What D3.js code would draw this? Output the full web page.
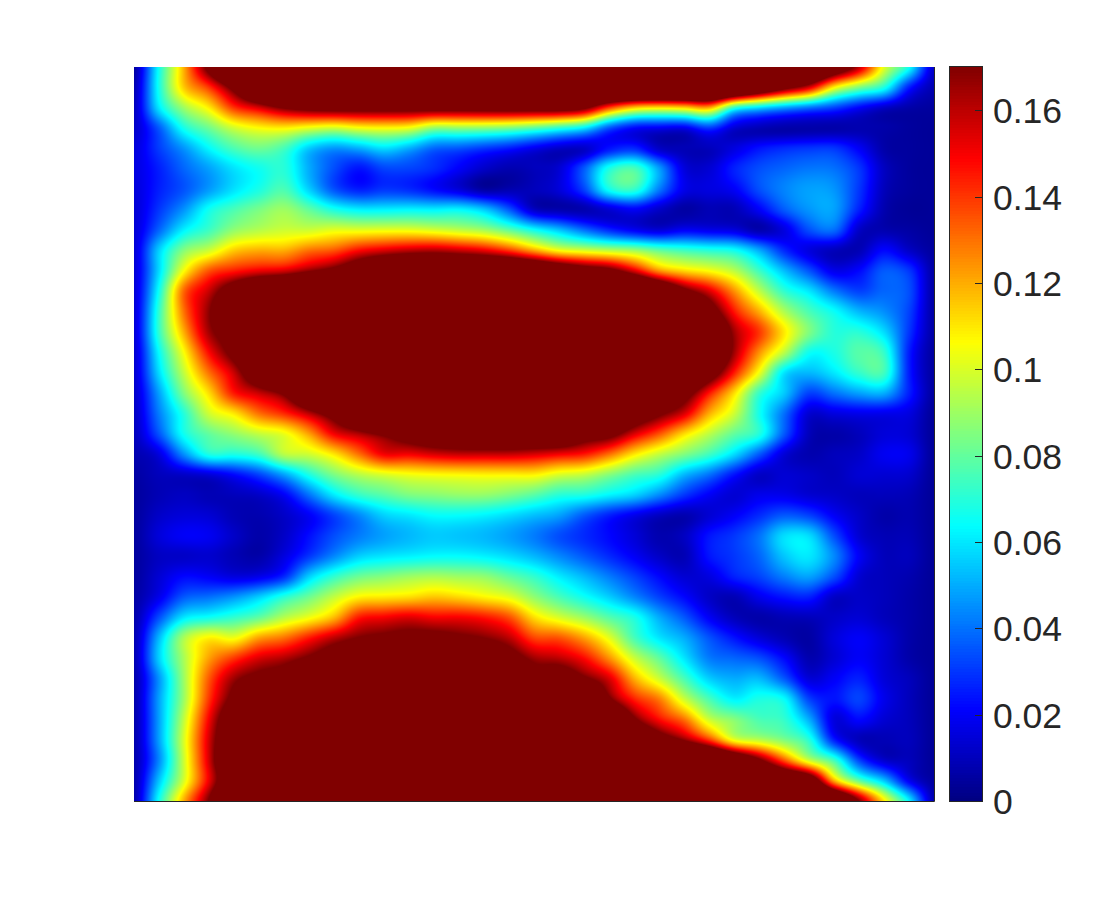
<!DOCTYPE html>
<html>
<head>
<meta charset="utf-8">
<script src="https://cdn.jsdelivr.net/npm/d3@7/dist/d3.min.js"></script>
<style>
html,body{margin:0;padding:0;background:#fff;width:1120px;height:900px;overflow:hidden}
svg{display:block}
text{font-family:"Liberation Sans",Arial,sans-serif}
</style>
</head>
<body>
<div id="chart"></div>
<script>
// Field values in hundredths. Values above the colour limit are clipped by the colour scale.
const row00=[.5,6.6,12,18,24,26,26,26,26,26,26,26,26,26,26,26,26,26,26,26,26,26,26,26,26,26,26,24,20,16,10.2,6.6,1.2];
const row01=[.8,6.7,11.5,14,18,23,26,26,26,26,26,26,26,26,26,26,26,26,26,26,26,26,26,26,24,21,18,15.5,10.8,8.5,6.8,2.6,.8];
const row02=[1,6,9,10.9,14,15.5,17.2,18,18.3,18.3,18.3,18.3,18.3,18.3,18.4,18.5,18.5,18.5,17.5,13.8,11.5,11,11.3,12,7.2,5.8,4.8,4,3.2,2.1,1.2,.7,.5];
const row03=[1.2,3.6,6.7,8.2,9.8,10.6,10.8,10.2,9.8,10.4,10.6,10.3,8.8,8.8,8.7,8.4,7.8,7,6,3.5,2.2,1.9,1.8,3,1.4,.9,.7,.7,.7,.8,.7,.5,.4];
const row04=[1.5,3.1,4.6,6.3,7.6,8.2,7.5,5.5,4.6,5,5.8,5,3.8,3.5,3,2.5,1.8,1.2,1.2,2.4,2.8,1.2,.9,1,1.6,2.4,2.8,3,3,2,.7,.5,.4];
const row05=[1.6,2.6,3.8,4.8,5.9,6.6,7,5,3.4,2.4,3.2,3.2,2.8,2,1.2,.8,1,1.4,3.6,6.8,7.6,4.8,1.6,1.4,2.6,3.4,3.8,4.1,4,3,1.1,.5,.4];
const row06=[1.5,2.6,3.5,4.7,5.9,6.8,7.6,5.6,3.5,2.6,3,2.8,2.2,1.5,.6,.8,1,1.5,3.2,6.6,7.2,4.2,1.8,1.6,2,3.4,4.3,4.8,4.6,3,1,.5,.4];
const row07=[1.4,3,4.6,6.6,7.6,8.4,9,8,6.8,6.2,6.2,6.3,6.2,6.3,5.5,3.6,1.2,.8,.8,1.4,2,1.2,.6,.9,.9,2,3.6,4.6,4.8,2.6,.8,.4,.4];
const row08=[1.4,3.8,6.2,7.4,8.8,9.4,9.8,9.8,10.2,10.2,10.3,10.3,10,9.6,9.1,8,6.6,5.4,4,2.8,2,1.5,2,1.8,1.6,.8,1.6,3.4,3.9,1.2,.8,.6,.4];
const row09=[1.4,5.6,8.6,9.8,11.5,12,12,13,13.5,14.8,15.5,16,16.2,15.8,15.2,14,12.2,10.6,10,9.5,9,8,7.4,7,6.6,5,2.8,1.6,1,.9,2.2,1.2,.5];
const row10=[1.4,5.8,10.6,13.5,14.5,15.2,15.6,16.8,18,20,22,23,23,23,23,23,22,20.5,19,18,15.5,12.5,11.3,10.6,9.5,7.4,5.3,3.5,1.8,2.2,3.6,3,.6];
const row11=[1.4,6.6,13.2,15.8,19,22,24,26,26,26,26,26,26,26,26,26,26,26,26,26,25,22,18,15.5,12.5,9.6,7.2,6,4.2,3.2,3.8,3.4,.6];
const row12=[1.4,7.2,13,16.8,21,24,26,26,26,26,26,26,26,26,26,26,26,26,26,26,26,26,24,19,14.6,12,9.3,7.6,6.5,5.2,4.5,3.2,.6];
const row13=[1.4,7.2,12,16.4,19,24,26,26,26,26,26,26,26,26,26,26,26,26,26,26,26,26,25,22,16.5,14,11,8.5,7,7,5.8,3,.6];
const row14=[1.3,6.4,10.6,14.8,18,22,26,26,26,26,26,26,26,26,26,26,26,26,26,26,26,26,25,22,16.5,12.5,9.5,6.6,6.8,7.8,7.2,2.6,.5];
const row15=[1.3,5.8,9.6,13,15.8,20,24,26,26,26,26,26,26,26,26,26,26,26,26,26,26,26,23,19,14.5,10.4,6,5.2,6,7.2,7.4,2.6,.5];
const row16=[1.2,4.8,8.5,11.2,14.5,15.8,17.5,22,26,26,26,26,26,26,26,26,26,26,26,26,26,21,18.5,14.6,11.2,7.3,5.5,3.2,4,4.8,5,2.6,.5];
const row17=[1.1,4.2,7,9.8,11,13,14.2,16,18.5,22,26,26,26,26,26,26,26,26,26,23,20,17.5,15.5,12,9.8,6.7,4,1.4,1.6,1.8,1.8,1.6,.4];
const row18=[1,3.5,6.6,8,8.8,9.6,10.3,12.2,15,16.2,17.5,19,20,20.5,21,21,21,21,19,18,15.5,13.5,11.2,9.5,8,6.9,3.6,1,.7,1,1.5,1.4,.4];
const row19=[.8,1.6,4.5,6.8,6.8,7.4,9.4,9.8,11,13,15,15,15.5,15.8,15.8,15.8,15.5,15,14.5,13,11,9.6,8.5,7.4,5.8,3.6,1.5,.8,1,1.2,1.9,1.8,.4];
const row20=[.6,1,1.2,1.5,2.2,3.2,4.8,6.8,8.4,9.4,10,10.4,10.6,10.7,10.8,10.8,10.8,10,9.6,8.6,7.6,7,5.2,4,2.4,1.2,1.4,1.2,1,1.4,1.4,1.3,.4];
const row21=[.5,.9,1.1,.9,1,1.2,2,4,6,7.2,7.8,8.4,8.6,8.8,8.8,8.4,7.8,7,6.8,6.2,5.6,4.4,3,2,1.4,1.8,1.8,1.4,1.2,1,1,.9,.4];
const row22=[.5,1.2,1.5,1.4,.9,.8,1.2,2,3.2,4.4,5.6,6,6.4,6.4,6.2,5.8,5.3,4.8,3.6,2.6,1.8,1.1,.8,1.4,2,2.8,3.6,3.2,2,1.2,.7,.8,.4];
const row23=[.5,1.5,2,1.9,1.2,.7,1.2,2.3,3.4,4.2,4.8,5.2,5.5,5.4,5.2,4.8,4.2,3.4,2.8,2.2,1.5,.8,1.1,2.4,3,4,5.8,5.8,3.4,1.4,.9,.9,.4];
const row24=[.5,1.1,1.2,1.3,.9,.7,1.6,3,4.4,5.6,6,6.2,6.4,6.4,6.2,5.8,5.2,4.4,3.6,2.8,2,1.2,.9,2.4,3,3.8,5.4,6,4.4,2,1,1,.4];
const row25=[.5,1.4,2.2,2,1.6,1.8,2.8,5.6,7.2,8.2,8.6,9,9.2,9,8.8,8,7.2,6.1,5.2,4.2,3.2,2.2,1.4,1.6,2.6,3.2,4.2,4.8,3.4,1.4,1,.8,.4];
const row26=[.6,1.8,3.6,4,4.6,5.6,7,8.2,9.6,10.8,11,11.2,11.6,11.3,10.8,10.2,8.8,7.6,6.6,5.6,4.4,3.2,2.2,1.2,.9,1.8,2.4,2.6,1.2,1.2,1,.7,.4];
const row27=[.7,3.4,6,6.6,7.2,8,9.4,10.4,11.8,14.5,15,15.4,15,15,14.6,13.6,11.2,10,9,7.8,6.8,5,3.6,2,1,.7,.9,1,1.2,1.4,1,.7,.4];
const row28=[.8,5.2,9.2,10.8,10.4,12.2,13,14.5,16,17.1,17.6,18,18,17.5,17,16,13.8,13.5,12.2,10.2,7.6,6,5,3.5,2.4,1.5,.9,.6,1.5,2,1.4,.7,.4];
const row29=[.8,5.6,9.2,12.2,14,15.5,16.2,17.4,19,20,20.5,21,21,20.5,20,18.5,16.5,16,14.8,12.5,9.8,8,6,4.2,3.8,3.4,2.2,.8,1.4,2,1.4,.7,.4];
const row30=[.7,4.6,9,13.4,16.5,18,19,21,23,24,24,24,24,24,24,22,19,19.5,17.5,15.5,12,9.8,7.6,5.6,5,5.2,3.6,1.5,2,2.6,1.5,1,.4];
const row31=[.7,4.8,9,14,18,22,25,25,25,25,25,25,25,25,25,25,25,25,23,17.5,14.4,12.8,9.8,7.6,6.2,6.8,6.4,3.2,2.4,3.2,1.8,1,.4];
const row32=[.7,4.8,9.6,15,20,24,26,26,26,26,26,26,26,26,26,26,26,26,26,23,17.5,14.8,13,9.8,8.6,7.6,7.2,5,1.6,2.2,1.4,1,.4];
const row33=[.7,4.8,10,15.6,21,26,26,26,26,26,26,26,26,26,26,26,26,26,26,26,22,19,16.8,14,10.4,9.5,8.5,7,2.6,1,.9,1,.4];
const row34=[.7,4.4,9.8,15.6,22,26,26,26,26,26,26,26,26,26,26,26,26,26,26,26,26,26,26,24,21,17.5,13.5,9.8,7.4,3.2,1.3,1,.4];
const row35=[.7,5.4,10,15.2,21,26,26,26,26,26,26,26,26,26,26,26,26,26,26,26,26,26,26,26,26,24,22,20,12,8,5.4,1.9,.5];
const row36=[.7,6.6,12,17.2,24,26,26,26,26,26,26,26,26,26,26,26,26,26,26,26,26,26,26,26,26,26,26,26,23,17,11,6.2,.8];

const tickValues=[0,0.02,0.04,0.06,0.08,0.1,0.12,0.14,0.16];
const tickLabels=["0","0.02","0.04","0.06","0.08","0.1","0.12","0.14","0.16"];
const colorLimit=0.17;
const jetPositions=[0,.125,.375,.625,.875,1];
const jetColors=["#000080","#0000ff","#00ffff","#ffff00","#ff0000","#800000"];

const grid=[row00,row01,row02,row03,row04,row05,row06,row07,row08,row09,row10,row11,row12,row13,row14,row15,row16,row17,row18,row19,row20,row21,row22,row23,row24,row25,row26,row27,row28,row29,row30,row31,row32,row33,row34,row35,row36];
grid.forEach((r,i)=>{if(r.length!==33)throw new Error("row "+i+" has "+r.length);});

const W=1120,H=900,L=134,R=934,T=67,B=801,CL=950,CR=982;
const color=d3.scaleLinear().domain(jetPositions.map(p=>p*colorLimit)).range(jetColors).clamp(true);
const colS=d3.scaleLinear().domain([0,grid[0].length-1]).range([L,R]);
const rowS=d3.scaleLinear().domain([0,grid.length-1]).range([T,B]);
const cbY=d3.scaleLinear().domain([0,colorLimit]).range([B,T]);

// shading between grid samples, like an interpolated surface plot
function cub(a,b,c,d,t){return b+.5*t*(c-a+t*(2*a-5*b+4*c-d+t*(3*(b-c)+d-a)));}
function clampI(i,n){return Math.max(0,Math.min(n-1,i));}
function sample(px,py){
  const cx=colS.invert(px),ry=rowS.invert(py);
  const i=clampI(Math.floor(cx),grid[0].length-1),j=clampI(Math.floor(ry),grid.length-1);
  const tx=cx-i,ty=ry-j,v=[];
  for(let k=-1;k<=2;k++){
    const r=grid[clampI(j+k,grid.length)];
    v.push(cub(r[clampI(i-1,r.length)],r[clampI(i,r.length)],r[clampI(i+1,r.length)],r[clampI(i+2,r.length)],tx));
  }
  return cub(v[0],v[1],v[2],v[3],ty)/100;
}

const canvas=document.createElement("canvas");
canvas.width=R-L;canvas.height=B-T;
const ctx=canvas.getContext("2d");
const img=ctx.createImageData(canvas.width,canvas.height);
for(let y=0;y<canvas.height;y++){
  for(let x=0;x<canvas.width;x++){
    const c=d3.rgb(color(sample(L+x+.5,T+y+.5)));
    const o=(y*canvas.width+x)*4;
    img.data[o]=c.r;img.data[o+1]=c.g;img.data[o+2]=c.b;img.data[o+3]=255;
  }
}
ctx.putImageData(img,0,0);

const svg=d3.select("#chart").append("svg").attr("width",W).attr("height",H).attr("viewBox",[0,0,W,H]);
svg.append("image").attr("x",L).attr("y",T).attr("width",R-L).attr("height",B-T)
  .attr("href",canvas.toDataURL("image/png"));
// bottom and right edges of the map's box
svg.append("path").attr("d",`M${L},${B+.5}H${R+.5}V${T}`).attr("fill","none").attr("stroke","#262626").attr("stroke-width",1);

// colour bar
const levels=d3.range(256).map(i=>(i+.5)/256*colorLimit);
const step=(B-T)/256;
svg.append("g").attr("shape-rendering","crispEdges").selectAll("rect").data(levels).join("rect")
  .attr("x",CL).attr("width",CR-CL)
  .attr("y",d=>cbY(d)-step/2-.3).attr("height",step+.6)
  .attr("fill",d=>color(d));
svg.append("rect").attr("x",CL-.5).attr("y",T-.5).attr("width",CR-CL+1).attr("height",B-T+1)
  .attr("fill","none").attr("stroke","#262626").attr("stroke-width",1);

const ticks=svg.append("g").selectAll("g").data(tickValues).join("g")
  .attr("transform",d=>`translate(0,${Math.round(cbY(d))+.5})`);
ticks.append("line").attr("x1",CR-7).attr("x2",CR).attr("stroke","#262626").attr("stroke-width",1);
ticks.append("text").attr("x",993).attr("dy","0.355em").attr("font-size",35.5).attr("fill","#262626")
  .text((d,i)=>tickLabels[i]);
</script>
</body>
</html>
